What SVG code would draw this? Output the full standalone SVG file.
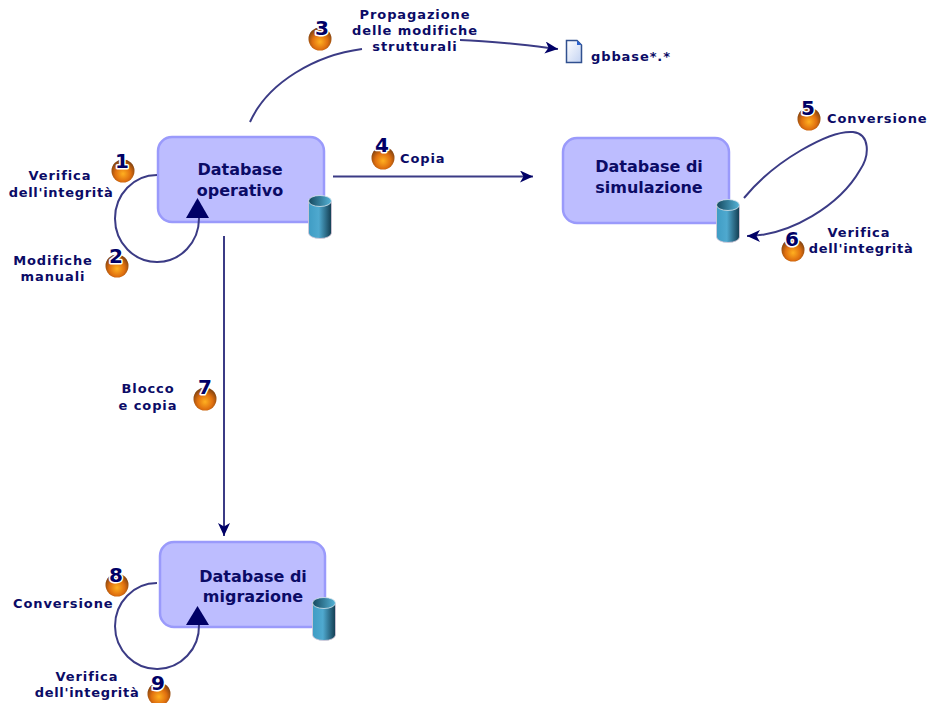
<svg xmlns="http://www.w3.org/2000/svg" width="931" height="703" viewBox="0 0 931 703">
<style>
text{font-family:"DejaVu Sans","Liberation Sans",sans-serif;font-weight:700;fill:#0b0b66}
.n{font-size:16px;text-anchor:middle}
.l{font-size:13px;letter-spacing:0.9px;text-anchor:middle}
.i{letter-spacing:0.7px}
.s{font-size:13px;letter-spacing:0.9px}
.d{font-size:20px;text-anchor:middle;fill:#000066;stroke:#fff;stroke-width:3px;paint-order:stroke;stroke-linejoin:round}
.box{fill:#bdbdff;stroke:#9a9afb;stroke-width:2.500}
.c{fill:none;stroke:#3b3b85;stroke-width:2}
.t{fill:#000066}
</style>
<defs>
<radialGradient id="ball" cx="0.5" cy="0.62" r="0.6">
<stop offset="0" stop-color="#ffb020"/><stop offset="0.55" stop-color="#e0700f"/><stop offset="1" stop-color="#7a3f10"/>
</radialGradient>
<linearGradient id="cyl" x1="0" x2="1" y1="0" y2="0">
<stop offset="0" stop-color="#3f9cc4"/><stop offset="0.45" stop-color="#4fa9cf"/><stop offset="1" stop-color="#123c50"/>
</linearGradient>
<linearGradient id="cyltop" x1="0" x2="1" y1="0" y2="0">
<stop offset="0" stop-color="#15485e"/><stop offset="1" stop-color="#55b4d8"/>
</linearGradient>
<linearGradient id="doc" x1="0" x2="1" y1="0" y2="1">
<stop offset="0" stop-color="#ffffff"/><stop offset="1" stop-color="#c2d2f2"/>
</linearGradient>
<marker id="arr" markerUnits="userSpaceOnUse" markerWidth="16" markerHeight="14" refX="13" refY="6" orient="auto">
<path d="M0,0 L13,6 L0,12 L3.500,6 Z" fill="#000066"/>
</marker>
<symbol id="db" width="24" height="44" viewBox="0 0 24 44" overflow="visible">
<path d="M0.5,6 V38 A11.5,5.5 0 0 0 23.5,38 V6 Z" fill="url(#cyl)" stroke="#d9c9d9" stroke-width="0.8"/>
<ellipse cx="12" cy="6" rx="11.5" ry="5.5" fill="url(#cyltop)" stroke="#d9e6ee" stroke-width="0.8"/>
</symbol>
<symbol id="b" width="24" height="24" viewBox="0 0 24 24">
<circle cx="12" cy="12" r="11.5" fill="url(#ball)"/>
</symbol>
</defs>

<g id="node-operativo">
<rect class="box" x="158" y="137" width="166" height="85" rx="14"/>
<text class="n" x="240" y="175">Database</text>
<text class="n" x="240" y="196">operativo</text>
<use href="#db" x="308" y="195"/>
</g>
<g id="node-simulazione">
<rect class="box" x="563" y="138" width="166" height="85" rx="14"/>
<text class="n" x="649" y="172">Database di</text>
<text class="n" x="649" y="193">simulazione</text>
<use href="#db" x="716" y="199"/>
</g>
<g id="node-migrazione">
<rect class="box" x="160" y="542" width="165" height="85" rx="14"/>
<text class="n" x="253" y="582">Database di</text>
<text class="n" x="253" y="602">migrazione</text>
<use href="#db" x="312" y="597"/>
</g>
<g id="file-gbbase">
<path d="M566.500,40.500 H577 L581.500,45 V62.500 H566.500 Z" fill="url(#doc)" stroke="#30508f" stroke-width="1.500"/>
<path d="M577,40.500 L581.500,45 H577 Z" fill="#2a62d0"/>
<text class="s" x="591" y="61">gbbase*.*</text>
</g>

<g id="connectors">
<path class="c" d="M157,175 A42,43.5 0 1 0 199,218"/>
<path class="t" d="M197.500,198 L186,218 L209,218 Z"/>
<path class="c" d="M250,122 C268,82 316,55 362,49"/>
<path class="c" d="M460,40 C495,41 525,45 558,49" marker-end="url(#arr)"/>
<path class="c" d="M333,176.500 H533" marker-end="url(#arr)"/>
<path class="c" d="M744,198 C775,160 830,130 853,132 C870,134 870,155 860,170 C840,205 790,236 747,236" marker-end="url(#arr)"/>
<path class="c" d="M224,236 V536" marker-end="url(#arr)"/>
<path class="c" d="M157,583 A42,43 0 1 0 199,625"/>
<path class="t" d="M197.500,606 L186,625 L209,625 Z"/>
</g>

<g id="step-1"><use href="#b" x="111" y="159"/><text class="d" x="122" y="168">1</text>
<text class="l" x="60" y="180">Verifica</text><text class="l i" x="61" y="197">dell'integrità</text></g>
<g id="step-2"><use href="#b" x="105" y="254"/><text class="d" x="116" y="263">2</text>
<text class="l" x="53" y="265">Modifiche</text><text class="l" x="53" y="281">manuali</text></g>
<g id="step-3"><use href="#b" x="308" y="27"/><text class="d" x="322" y="35">3</text>
<text class="l" x="415" y="19">Propagazione</text><text class="l" x="415" y="35">delle modifiche</text><text class="l" x="415" y="51">strutturali</text></g>
<g id="step-4"><use href="#b" x="371" y="146"/><text class="d" x="382" y="152">4</text>
<text class="s" x="400" y="163">Copia</text></g>
<g id="step-5"><use href="#b" x="797" y="107"/><text class="d" x="808" y="115">5</text>
<text class="s" x="827" y="123">Conversione</text></g>
<g id="step-6"><use href="#b" x="781" y="238"/><text class="d" x="792" y="246">6</text>
<text class="l" x="859" y="237">Verifica</text><text class="l i" x="861" y="253">dell'integrità</text></g>
<g id="step-7"><use href="#b" x="193" y="387"/><text class="d" x="205" y="394">7</text>
<text class="l" x="148" y="393">Blocco</text><text class="l" x="148" y="410">e copia</text></g>
<g id="step-8"><use href="#b" x="105" y="573"/><text class="d" x="116" y="582">8</text>
<text class="s" x="13" y="608">Conversione</text></g>
<g id="step-9"><use href="#b" x="147" y="682"/><text class="d" x="158" y="690">9</text>
<text class="l" x="87" y="681">Verifica</text><text class="l i" x="87" y="697">dell'integrità</text></g>
</svg>
